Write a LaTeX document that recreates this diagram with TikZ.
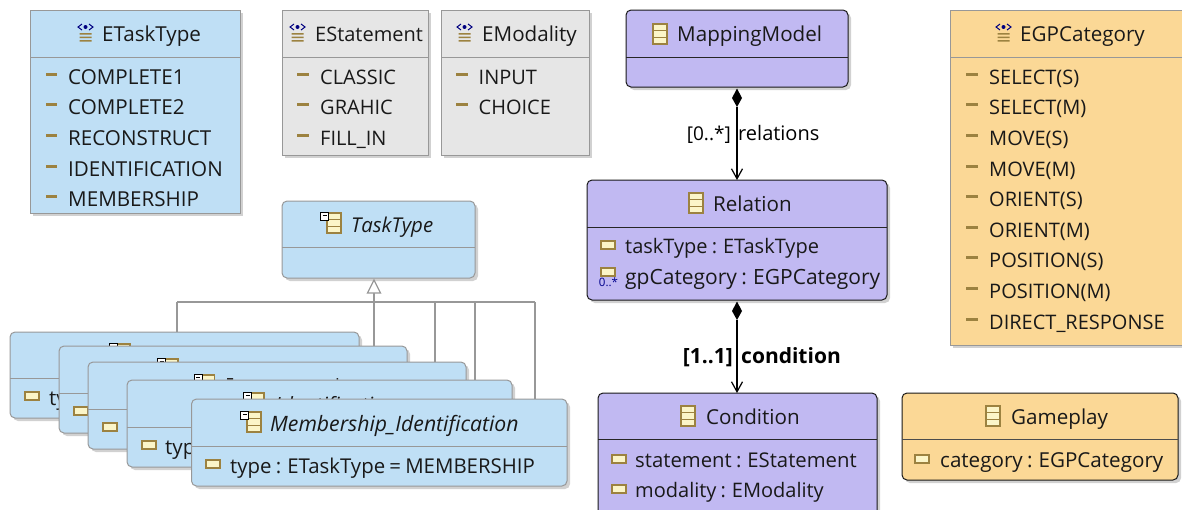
\documentclass[tikz,border=0pt]{standalone}
\usepackage{fontspec}
\setmainfont{Open Sans}[WordSpace=0.8]
\usetikzlibrary{shadows,arrows.meta}
\definecolor{blueb}{HTML}{BFDFF5}
\definecolor{greyb}{HTML}{E6E6E6}
\definecolor{purpb}{HTML}{C1B9F2}
\definecolor{orangb}{HTML}{FBD896}
\definecolor{graylin}{HTML}{989898}
\definecolor{icong}{HTML}{9C8240}
\definecolor{iconf}{HTML}{FBF5C8}
\tikzset{
 x=1pt,y=-1pt,
 base/.style={inner sep=0pt,outer sep=0pt,line width=1pt,anchor=center,
   general shadow={shadow xshift=3pt,shadow yshift=-3pt,fill=black!18}},
 bluebox/.style={base,draw=graylin,fill=blueb,rounded corners=5pt},
 enumblue/.style={base,draw=graylin,fill=blueb},
 enumgrey/.style={base,draw=graylin,fill=greyb},
 enumor/.style={base,draw=graylin,fill=orangb},
 purpbox/.style={base,draw=black!90,fill=purpb,rounded corners=5pt},
 orbox/.style={base,draw=black!90,fill=orangb,rounded corners=5pt},
 sepgray/.style={draw=graylin,line width=.9pt},
 sepblack/.style={draw=black!85,line width=.9pt},
 txt/.style={inner sep=0pt,anchor=base west,font=\fontsize{20.6}{20.6}\selectfont,text=black!90},
 tsm/.style={font=\fontsize{20}{20}\selectfont},
 ital/.style={txt,font=\fontsize{21}{21}\selectfont\itshape},
 gen/.style={draw=graylin,line width=1.3pt},
 assoc/.style={draw=black,line width=1.2pt,-{Straight Barb[length=10pt,width=11pt]}},
 lab/.style={inner sep=0pt,font=\fontsize{20}{20}\selectfont},
 labb/.style={inner sep=0pt,font=\fontsize{21}{21}\selectfont\bfseries},
}
% box: name, style, x1,y1,x2,y2
\newcommand{\ubox}[6]{%
 \pgfmathsetlengthmacro{\bw}{#5-#3}\pgfmathsetlengthmacro{\bh}{#6-#4}%
 \node[#2,minimum width=\bw,minimum height=\bh] (#1) at ({(#3+#5)/2},{(#4+#6)/2}) {};}
% class icon at x,y (top-left)
\newcommand{\clsicon}[2]{%
 \draw[icong,fill=iconf,line width=1.1pt] (#1,#2) rectangle ++(14,20);
 \draw[icong,line width=1pt] (#1,#2+6.7) -- ++(14,0) (#1,#2+13.3) -- ++(14,0);}
\newcommand{\absicon}[2]{%
 \clsicon{#1}{#2}
 \draw[black,fill=white,line width=.9pt] (#1-6.3,#2-1) rectangle ++(8,8.5);
 \draw[black,line width=.7pt] (#1-4.3,#2+2.5) -- ++(4,0);}
% attribute icon
\newcommand{\atticon}[2]{%
 \draw[icong,fill=iconf,line width=1.2pt] (#1,#2-4) rectangle ++(14,8);}
% literal icon
\newcommand{\liticon}[2]{%
 \fill[icong] (#1,#2-1.5) rectangle ++(11.5,3);}
% enum icon
\newcommand{\enumicon}[2]{%
 \fill[icong] (#1+2.5,#2+9) rectangle ++(12,1.6) (#1+2.5,#2+12.5) rectangle ++(12,1.6) (#1+2.5,#2+16) rectangle ++(12,1.6);
 \draw[blue!50!black,line width=1pt] (#1+5,#2) -- ++(-4,3) -- ++(4,3) (#1+12,#2) -- ++(4,3) -- ++(-4,3);
 \fill[blue!50!black] (#1+8.5,#2+3) circle (2);}
\begin{document}
\begin{tikzpicture}
\useasboundingbox (0,0) rectangle (1182,509);
% inheritance
\coordinate (bus1) at (177,302); \coordinate (bus2) at (535,302);
\coordinate (bus3) at (374,302); \coordinate (bus4) at (435,302); \coordinate (bus5) at (475,302);
% enums
\ubox{etask}{enumblue}{30}{10}{240}{213}
\draw[sepgray] (etask.west |- 0,57) -- (etask.east |- 0,57);
\enumicon{77}{24}
\node[txt] (etaskT) at (102,41) {ETaskType};
\foreach \t/\y/\n in {COMPLETE1/84/a,COMPLETE2/114.5/b,RECONSTRUCT/145/c,IDENTIFICATION/176/d,MEMBERSHIP/206/e}{
 \liticon{45.7}{\y-10}
 \node[txt] (et\n) at (68,\y) {\t};}
\ubox{estat}{enumgrey}{282}{10}{428}{155}
\draw[sepgray] (estat.west |- 0,57) -- (estat.east |- 0,57);
\enumicon{289}{24}
\node[txt,tsm] (estatT) at (315,41) {EStatement};
\foreach \t/\y/\n in {CLASSIC/84/a,GRAHIC/114.5/b,FILL\_IN/145/c}{
 \liticon{297}{\y-10}
 \node[txt,tsm] (es\n) at (320,\y) {\t};}
\ubox{emod}{enumgrey}{441}{10}{589}{155}
\draw[sepgray] (emod.west |- 0,57) -- (emod.east |- 0,57);
\enumicon{456}{24}
\node[txt] (emodT) at (482,41) {EModality};
\foreach \t/\y/\n in {INPUT/84/a,CHOICE/114.5/b}{
 \liticon{456}{\y-10}
 \node[txt,tsm] (em\n) at (478.5,\y) {\t};}
\ubox{egp}{enumor}{950}{10}{1190}{345}
\draw[sepgray] (egp.west |- 0,57) -- (egp.east |- 0,57);
\enumicon{995}{24}
\node[txt] (egpT) at (1020,41) {EGPCategory};
\foreach \t/\y/\n in {SELECT(S)/84/a,SELECT(M)/114.5/b,MOVE(S)/145/c,MOVE(M)/176/d,ORIENT(S)/206/e,ORIENT(M)/237/f,POSITION(S)/267/g,POSITION(M)/298/h,DIRECT\_RESPONSE/329/i}{
 \liticon{966}{\y-10}
 \node[txt,tsm] (eg\n) at (989,\y) {\t};}
% TaskType
\ubox{tt}{bluebox}{282}{201}{475}{278}
\draw[sepgray] (tt.west |- 0,247) -- (tt.east |- 0,247);
\absicon{327}{213}
\node[ital,tsm,font=\fontsize{20.4}{20.4}\selectfont\itshape] (ttT) at (351,232) {TaskType};
% generalization lines
\draw[gen] (bus1) -- (bus2);
\draw[gen] (374,293) -- (bus3);
\draw[gen,fill=white,line join=miter] (374,280) -- (380.5,293) -- (367.5,293) -- cycle;
% stack
\coordinate (c1) at (177,332);
\draw[gen] (bus1) -- (c1);
\ubox{b1}{bluebox}{10}{332}{359}{418}
\draw[sepgray] (b1.west |- 0,378) -- (b1.east |- 0,378);
\absicon{116}{344}
\atticon{25}{396}
\node[txt] (b1a) at (49,405) {type};
\coordinate (c2) at (374,346);
\draw[gen] (bus3) -- (c2);
\ubox{b2}{bluebox}{59}{346}{407}{433}
\draw[sepgray] (b2.west |- 0,393) -- (b2.east |- 0,393);
\absicon{164}{359}
\atticon{74}{411}
\coordinate (c3) at (435,362);
\draw[gen] (bus4) -- (c3);
\ubox{b3}{bluebox}{88}{362}{466}{449}
\draw[sepgray] (b3.west |- 0,409) -- (b3.east |- 0,409);
\absicon{200.5}{375}
\fill[black!85] (227,378) rectangle (233,379.5) (336.5,378) rectangle (338,379.5);
\atticon{103}{427}
\coordinate (c4) at (475,380);
\draw[gen] (bus5) -- (c4);
\ubox{b4}{bluebox}{127}{380}{512}{467}
\draw[sepgray] (b4.west |- 0,427) -- (b4.east |- 0,427);
\absicon{250}{393}
\atticon{142}{445}
\node[ital] (b4T) at (275,412) {Identification};
\node[txt] (b4a) at (165,454) {type};
\coordinate (c5) at (535,399);
\draw[gen] (bus2) -- (c5);
\ubox{b5}{bluebox}{191.5}{399}{567}{486}
\draw[sepgray] (b5.west |- 0,446) -- (b5.east |- 0,446);
\absicon{247}{412}
\node[ital,font=\fontsize{21.2}{21.2}\selectfont\itshape] (b5T) at (270,431) {Membership\_Identification};
\atticon{206}{464}
\node[txt,font=\fontsize{20.4}{20.4}\selectfont] (b5a) at (230,473) {type : ETaskType = MEMBERSHIP};
% right
\ubox{mm}{purpbox}{626}{10}{848}{87}
\draw[sepblack] (mm.west |- 0,57) -- (mm.east |- 0,57);
\clsicon{653}{24}
\node[txt] (mmT) at (677,41) {MappingModel};
\ubox{rel}{purpbox}{587}{180}{887}{300}
\draw[sepblack] (rel.west |- 0,227) -- (rel.east |- 0,227);
\clsicon{689}{193}
\node[txt] (relT) at (713,211) {Relation};
\atticon{601}{245}
\node[txt,tsm] (rela) at (625,253) {taskType : ETaskType};
\atticon{601}{272}
\node[inner sep=0pt,text=blue!55!black,font=\fontsize{11.5}{11.5}\selectfont] (relm) at (608.5,282) {0..*};
\node[txt,font=\fontsize{21}{21}\selectfont] (relb) at (625,284) {gpCategory : EGPCategory};
\ubox{cond}{purpbox}{598}{393}{877}{520}
\draw[sepblack] (cond.west |- 0,439) -- (cond.east |- 0,439);
\clsicon{681}{406}
\node[txt] (condT) at (706,424) {Condition};
\atticon{612}{459}
\node[txt,font=\fontsize{20.3}{20.3}\selectfont] (conda) at (635,467) {statement : EStatement};
\atticon{612}{489}
\node[txt,tsm] (condb) at (635,497) {modality : EModality};
\ubox{game}{orbox}{902}{393}{1178}{480}
\draw[sepgray,draw=black!70] (game.west |- 0,439) -- (game.east |- 0,439);
\clsicon{986}{406}
\node[txt] (gameT) at (1011,424) {Gameplay};
\atticon{915}{459}
\node[txt] (gamea) at (940,467) {category : EGPCategory};
% associations
\coordinate (d1) at (737,107);
\coordinate (d2) at (737,320);
\draw[assoc] (d1) -- (rel.north -| d1);
\fill[black] (737,88.5) -- (742,98) -- (d1) -- (732,98) -- cycle;
\draw[assoc] (d2) -- (cond.north -| d2);
\fill[black] (737,301.5) -- (742,311) -- (d2) -- (732,311) -- cycle;
\node[lab,font=\fontsize{19}{19}\selectfont,anchor=base east] (l1) at (731,140) {[0..*]};
\node[lab,anchor=base west] (l1b) at (738,140) {relations};
\node[labb,anchor=base east] (l2) at (733,363) {[1..1]};
\node[labb,anchor=base west] (l2b) at (741,363) {condition};
\end{tikzpicture}
\end{document}
